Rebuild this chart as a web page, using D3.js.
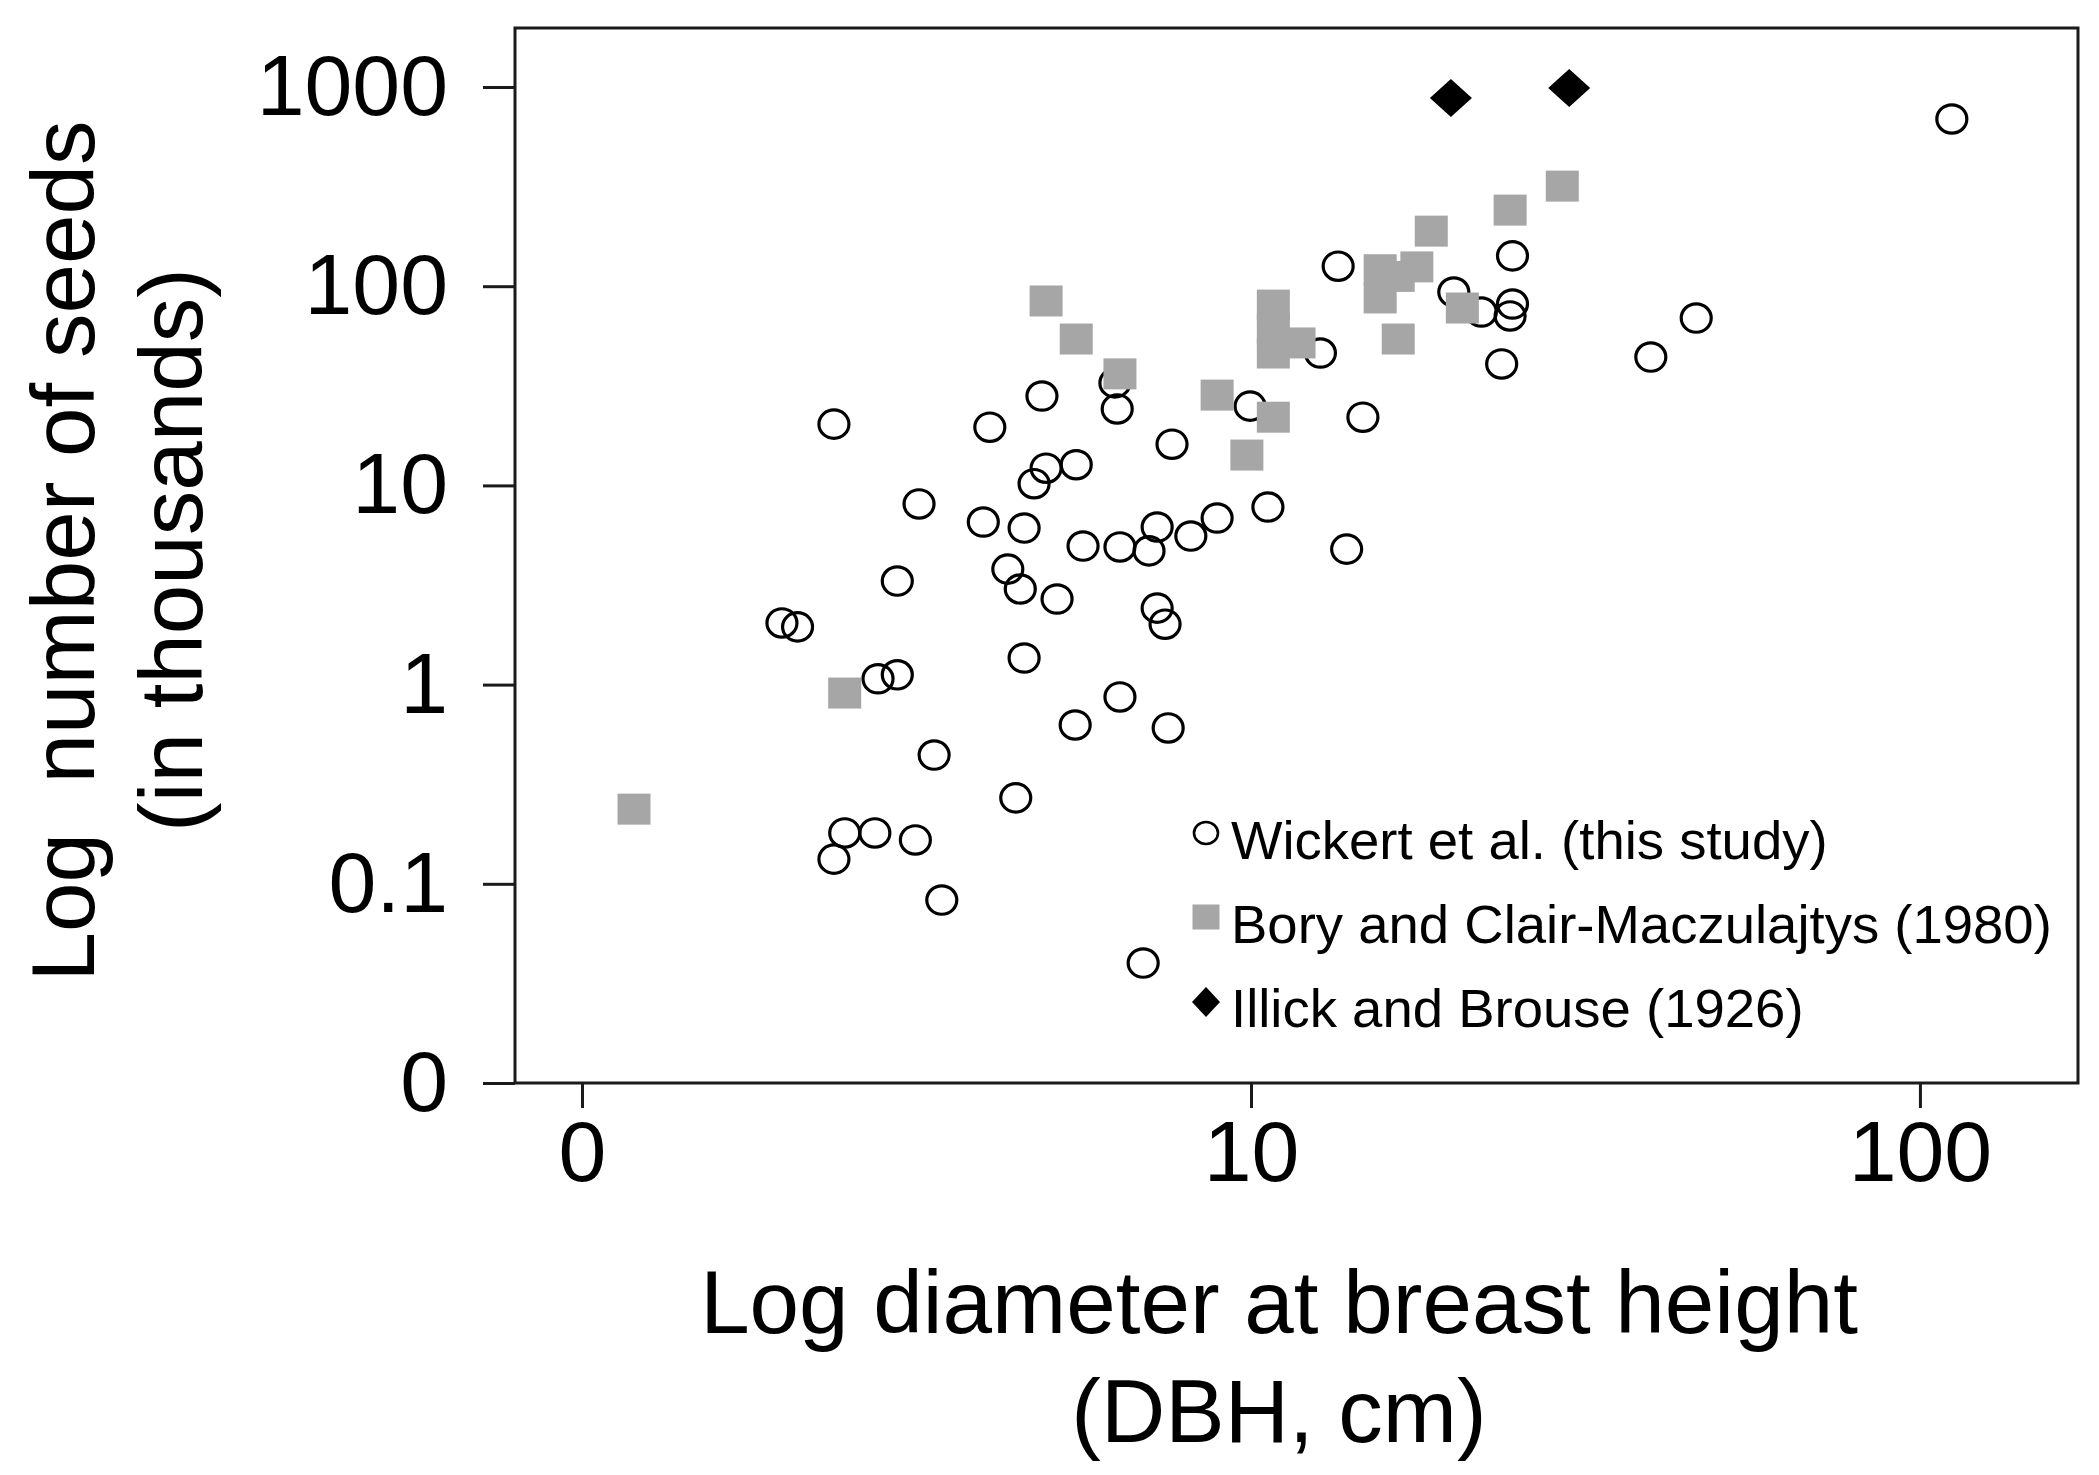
<!DOCTYPE html>
<html>
<head>
<meta charset="utf-8">
<script src="https://d3js.org/d3.v7.min.js"></script>
<style>
  body { margin: 0; background: #fff; }
  svg { display: block; }
  text { font-family: "Liberation Sans", Arial, sans-serif; fill: #000; }
</style>
</head>
<body>
<div id="chart"></div>
<script>
// Wickert et al. (this study)
const wickertDBH = [4.87, 2.38, 4.07, 4.94, 5.48, 4.74, 3.19, 3.98, 4.58, 5.61, 4.33, 4.52, 5.13, 2.96,
  1.99, 2.10, 4.58, 2.77, 2.96, 5.46, 3.36, 4.45, 2.47, 2.74, 2.38, 3.15, 3.45, 13.5, 24.6, 20.1, 22.1,
  24.6, 24.4, 23.7, 12.7, 14.7, 9.97, 6.31, 6.26, 7.62, 10.6, 8.90, 7.24, 8.13, 7.04, 6.37, 13.9, 7.24,
  7.44, 6.37, 7.52, 6.90, 111.6, 46.3, 39.6];
const wickertSeeds = [28.1, 20.3, 19.6, 12.2, 12.7, 10.2, 8.07, 6.55, 6.11, 4.96, 3.80, 3.02, 2.69, 3.31,
  2.04, 1.95, 1.36, 1.07, 1.12, 0.627, 0.443, 0.270, 0.180, 0.180, 0.133, 0.166, 0.0829, 126, 142, 93.5,
  74.2, 81.4, 70.9, 40.7, 46.2, 22.0, 25.0, 24.2, 32.7, 16.1, 7.79, 6.86, 6.18, 5.57, 4.69, 4.91, 4.79,
  2.42, 2.01, 0.867, 0.606, 0.0400, 691, 69.2, 44.1];

// Bory and Clair-Maczulajtys (1980)
const boryDBH = [4.94, 5.48, 2.47, 1.196, 29.2, 24.4, 18.6, 17.7, 15.6, 15.6, 16.6, 20.7, 16.6, 10.8,
  10.8, 10.8, 11.8, 6.37, 8.90, 10.8, 9.86];
const borySeeds = [84.3, 54.3, 0.907, 0.237, 318, 241, 189, 125, 121, 87.3, 112, 77.7, 54.3, 80.4,
  61.0, 46.2, 51.9, 36.3, 28.4, 22.0, 14.2];

// Illick and Brouse (1926)
const illickDBH = [19.9, 29.9];
const illickSeeds = [881, 990];

// ticks (log values, the labels are the ones printed on the figure)
const xTickValues = [1, 10, 100];
const xTickLabels = ["0", "10", "100"];
const yTickValues = [0.01, 0.1, 1, 10, 100, 1000];
const yTickLabels = ["0", "0.1", "1", "10", "100", "1000"];

const legendLabels = ["Wickert et al. (this study)", "Bory and Clair-Maczulajtys (1980)", "Illick and Brouse (1926)"];

const W = 2099, H = 1475;
const frame = { left: 515, right: 2078, top: 28, bottom: 1083 };
const squareColor = "#a6a6a6";

const svg = d3.select("#chart").append("svg")
  .attr("width", W)
  .attr("height", H);

const x = d3.scaleLog().domain([0.794, 172.3]).range([frame.left, frame.right]);
const y = d3.scaleLog().domain([0.01, 1978]).range([frame.bottom, frame.top]);

// axes
const xAxis = svg.append("g")
  .attr("transform", `translate(0,${frame.bottom})`)
  .call(d3.axisBottom(x)
    .tickValues(xTickValues)
    .tickFormat((d, i) => xTickLabels[i])
    .tickSize(25)
    .tickPadding(12));

const yAxis = svg.append("g")
  .attr("transform", `translate(${frame.left},0)`)
  .call(d3.axisLeft(y)
    .tickValues(yTickValues)
    .tickFormat((d, i) => yTickLabels[i])
    .tickSize(32)
    .tickPadding(35));

[xAxis, yAxis].forEach((g) => {
  g.select(".domain").remove();
  g.selectAll(".tick line").attr("stroke", "#1a1a1a").attr("stroke-width", 3);
  g.selectAll(".tick text")
    .attr("font-size", 86)
    .attr("font-family", "Liberation Sans, Arial, sans-serif")
    .attr("fill", "#000");
});

// plot frame
svg.append("rect")
  .attr("x", frame.left)
  .attr("y", frame.top)
  .attr("width", frame.right - frame.left)
  .attr("height", frame.bottom - frame.top)
  .attr("fill", "none")
  .attr("stroke", "#1a1a1a")
  .attr("stroke-width", 3);

// axis titles
const xTitle = svg.append("text")
  .attr("text-anchor", "middle")
  .attr("font-size", 89);
xTitle.append("tspan").attr("x", 1279).attr("y", 1333).text("Log diameter at breast height");
xTitle.append("tspan").attr("x", 1279).attr("y", 1442).text("(DBH, cm)");

svg.append("text")
  .attr("transform", "translate(94,551) rotate(-90)")
  .attr("text-anchor", "middle")
  .attr("font-size", 89)
  .style("white-space", "pre")
  .text("Log  number of seeds");

svg.append("text")
  .attr("transform", "translate(202,550) rotate(-90)")
  .attr("text-anchor", "middle")
  .attr("font-size", 89)
  .text("(in thousands)");

// data marks
const wickert = wickertDBH.map((d, i) => ({ dbh: d, seeds: wickertSeeds[i] }));
const bory = boryDBH.map((d, i) => ({ dbh: d, seeds: borySeeds[i] }));
const illick = illickDBH.map((d, i) => ({ dbh: d, seeds: illickSeeds[i] }));

function diamond(w, h) {
  return `M0,${-h / 2}L${w / 2},0L0,${h / 2}L${-w / 2},0Z`;
}

svg.append("g").selectAll("ellipse")
  .data(wickert)
  .join("ellipse")
  .attr("cx", (d) => x(d.dbh))
  .attr("cy", (d) => y(d.seeds))
  .attr("rx", 15)
  .attr("ry", 14.2)
  .attr("fill", "none")
  .attr("stroke", "#000")
  .attr("stroke-width", 3.2);

svg.append("g").selectAll("rect")
  .data(bory)
  .join("rect")
  .attr("x", (d) => x(d.dbh) - 16.5)
  .attr("y", (d) => y(d.seeds) - 15.5)
  .attr("width", 33)
  .attr("height", 31)
  .attr("fill", squareColor);

svg.append("g").selectAll("path")
  .data(illick)
  .join("path")
  .attr("transform", (d) => `translate(${x(d.dbh)},${y(d.seeds)})`)
  .attr("d", diamond(42, 38))
  .attr("fill", "#000");

// legend
const legend = svg.append("g").attr("transform", "translate(1206,0)");
const rowBase = [859, 943, 1027];

legend.append("ellipse")
  .attr("cx", 0).attr("cy", rowBase[0] - 26)
  .attr("rx", 12).attr("ry", 11)
  .attr("fill", "none").attr("stroke", "#000").attr("stroke-width", 2.6);
legend.append("rect")
  .attr("x", -13.5).attr("y", rowBase[1] - 26 - 12.5)
  .attr("width", 27).attr("height", 25)
  .attr("fill", squareColor);
legend.append("path")
  .attr("transform", `translate(0,${rowBase[2] - 25})`)
  .attr("d", diamond(28, 30))
  .attr("fill", "#000");

legend.selectAll("text")
  .data(legendLabels)
  .join("text")
  .attr("x", 25)
  .attr("y", (d, i) => rowBase[i])
  .attr("font-size", 54.5)
  .text((d) => d);
</script>
</body>
</html>
